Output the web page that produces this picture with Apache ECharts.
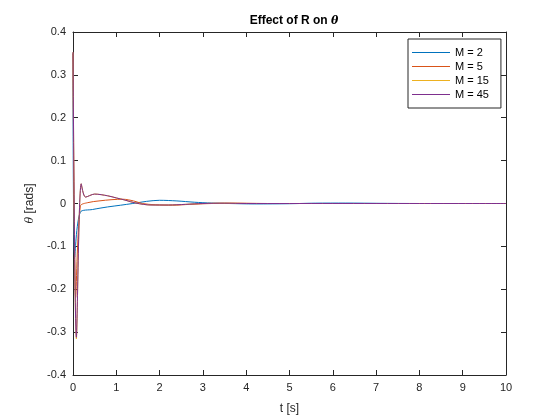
<!DOCTYPE html>
<html>
<head>
<meta charset="utf-8">
<script src="https://cdn.jsdelivr.net/npm/echarts@6/dist/echarts.min.js"></script>
<style>
  html, body { margin: 0; padding: 0; background: #fff; }
  #chart { width: 560px; height: 420px; }
</style>
</head>
<body>
<div id="chart"></div>
<script>
// values
var names = ['M = 2', 'M = 5', 'M = 15', 'M = 45'];
var colors = ['#0072BD', '#D95319', '#EDB120', '#7E2F8E'];

var tM2 = [0, 0.04, 0.17, 0.45, 0.8, 1.1, 1.38, 1.7, 2.0, 2.4, 2.8, 3.2, 3.6, 4.2, 5, 5.6, 6.3, 7.1, 8, 10];
var vM2 = [0.35, -0.125, -0.02, -0.014, -0.008, -0.004, 0, 0.005, 0.0075, 0.006, 0.003, 0.001, 0, -0.001, -0.0005, 0.0008, 0.001, 0.0004, 0, 0];

var tM5 = [0, 0.062, 0.17, 0.34, 0.6, 0.9, 1.15, 1.4, 1.6, 1.9, 2.3, 2.7, 3.2, 3.8, 4.5, 6, 8, 10];
var vM5 = [0.35, -0.219, -0.006, 0.002, 0.006, 0.009, 0.01, 0.006, 0.0, -0.003, -0.004, -0.002, 0, 0.0008, 0, 0, 0, 0];

var tM15 = [0, 0.078, 0.19, 0.29, 0.5, 0.8, 1.0, 1.2, 1.45, 1.8, 2.2, 2.6, 3.0, 3.5, 4, 5, 6, 8, 10];
var vM15 = [0.353, -0.316, 0.046, 0.015, 0.022, 0.018, 0.013, 0.008, 0.001, -0.0035, -0.0035, -0.002, 0, 0.0008, 0, 0, 0, 0, 0];

var tM45 = [0, 0.078, 0.19, 0.29, 0.5, 0.8, 1.0, 1.2, 1.45, 1.8, 2.2, 2.6, 3.0, 3.5, 4, 5, 6, 8, 10];
var vM45 = [0.353, -0.312, 0.046, 0.015, 0.022, 0.018, 0.013, 0.008, 0.001, -0.0035, -0.0035, -0.002, 0, 0.0008, 0, 0, 0, 0, 0];

var xTicks = [0, 1, 2, 3, 4, 5, 6, 7, 8, 9, 10];
var yTicks = [-0.4, -0.3, -0.2, -0.1, 0, 0.1, 0.2, 0.3, 0.4];

var times = [tM2, tM5, tM15, tM45];
var vals = [vM2, vM5, vM15, vM45];

var axisColor = '#262626';
var font = 'Liberation Sans, Arial, Helvetica, sans-serif';

function pairs(ts, vs) {
    return ts.map(function (t, i) { return [t, vs[i]]; });
}

var series = names.map(function (n, k) {
    return {
        name: n,
        type: 'line',
        data: pairs(times[k], vals[k]),
        symbol: 'none',
        smooth: 0.3,
        lineStyle: { color: colors[k], width: 1 },
        itemStyle: { color: colors[k] },
        animation: false
    };
});

// legend entries drawn as thin coloured bars
var legendData = names.map(function (n, k) {
    return { name: n, icon: 'rect', itemStyle: { color: colors[k], borderWidth: 0 } };
});

var tickStyle = { show: true, inside: true, length: 5, lineStyle: { color: axisColor } };
var lineStyle = { show: true, onZero: false, lineStyle: { color: axisColor, width: 1 } };

var option = {
    backgroundColor: '#fff',
    title: {
        text: 'Effect of R on {i|θ}',
        left: 289,
        top: 10,
        textAlign: 'center',
        textStyle: {
            fontFamily: font, fontSize: 12, fontWeight: 'bold', color: '#000',
            rich: { i: { fontFamily: 'DejaVu Serif, serif', fontStyle: 'italic', fontSize: 11, color: '#000' } }
        }
    },
    legend: {
        data: legendData,
        orient: 'vertical',
        left: 408,
        top: 39,
        itemWidth: 38,
        itemHeight: 1,
        itemGap: 1,
        padding: [7, 12, 7, 4],
        backgroundColor: '#fff',
        borderColor: axisColor,
        borderWidth: 1,
        borderRadius: 0,
        textStyle: { fontFamily: font, fontSize: 11, color: '#000', lineHeight: 13 }
    },
    grid: { left: 73, right: 54, top: 32, bottom: 45 },
    xAxis: [{
        type: 'value',
        min: xTicks[0],
        max: xTicks[xTicks.length - 1],
        interval: 1,
        name: 't [s]',
        nameLocation: 'middle',
        nameGap: 28,
        nameTextStyle: { fontFamily: font, fontSize: 12, color: axisColor },
        axisLine: lineStyle,
        axisTick: tickStyle,
        axisLabel: { fontFamily: font, fontSize: 11, color: axisColor, margin: 7 },
        splitLine: { show: false }
    }, {
        type: 'value',
        position: 'top',
        min: xTicks[0],
        max: xTicks[xTicks.length - 1],
        interval: 1,
        axisLine: lineStyle,
        axisTick: tickStyle,
        axisLabel: { show: false },
        splitLine: { show: false }
    }],
    yAxis: [{
        type: 'value',
        min: yTicks[0],
        max: yTicks[yTicks.length - 1],
        interval: 0.1,
        name: '{i|θ} [rads]',
        nameLocation: 'middle',
        nameGap: 27,
        nameRotate: 90,
        nameTextStyle: {
            fontFamily: font, fontSize: 12, color: axisColor,
            rich: { i: { fontFamily: 'DejaVu Serif, serif', fontStyle: 'italic', fontSize: 11, color: axisColor } }
        },
        axisLine: lineStyle,
        axisTick: tickStyle,
        axisLabel: {
            fontFamily: font, fontSize: 11, color: axisColor, margin: 7,
            formatter: function (v) { return String(+v.toFixed(1)); }
        },
        splitLine: { show: false }
    }, {
        type: 'value',
        position: 'right',
        min: yTicks[0],
        max: yTicks[yTicks.length - 1],
        interval: 0.1,
        axisLine: lineStyle,
        axisTick: tickStyle,
        axisLabel: { show: false },
        splitLine: { show: false }
    }],
    series: series
};

var myChart = echarts.init(document.getElementById('chart'));
myChart.setOption(option);
</script>
</body>
</html>
